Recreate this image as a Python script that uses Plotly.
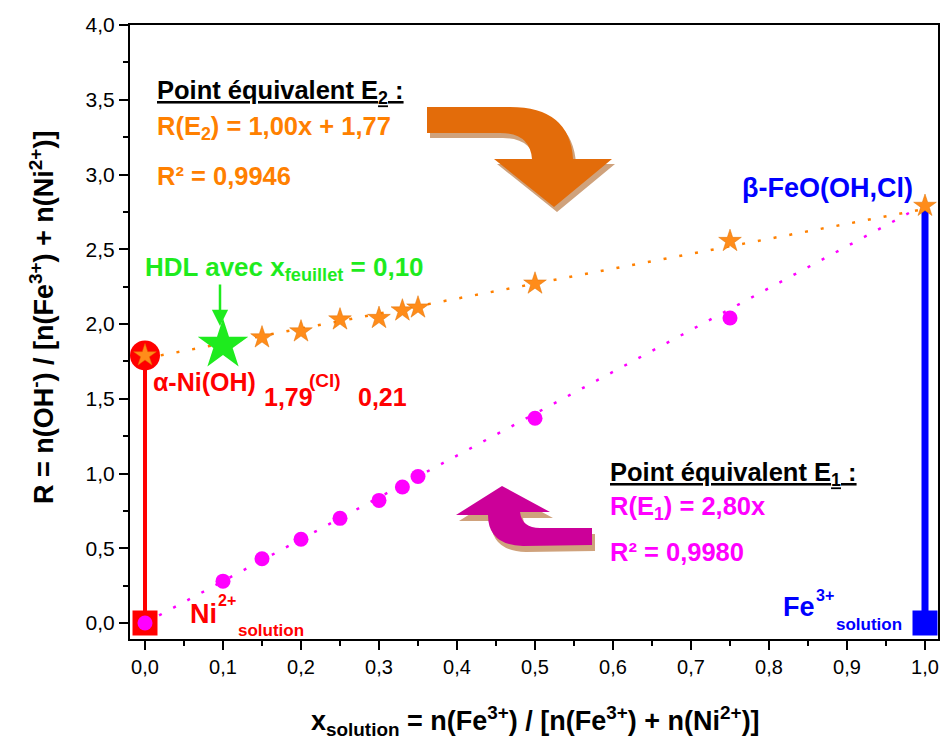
import plotly.graph_objects as go

# ---------------- data ----------------
x_e2 = [0.0, 0.15, 0.20, 0.25, 0.30, 0.33, 0.35, 0.50, 0.75, 1.00]
r_e2 = [1.79, 1.91, 1.95, 2.03, 2.04, 2.09, 2.11, 2.27, 2.555, 2.79]

x_e1 = [0.0, 0.10, 0.15, 0.20, 0.25, 0.30, 0.33, 0.35, 0.50, 0.75]
r_e1 = [0.0, 0.28, 0.43, 0.56, 0.70, 0.82, 0.91, 0.98, 1.37, 2.04]

x_hdl = [0.10]
r_hdl = [1.86]

x_ni = [0.0]
r_ni = [1.79]
x_fe = [1.0]
r_fe = [2.80]

fit_x = [0.0, 1.0]
e2_slope, e2_intercept = 1.00, 1.77
e1_slope, e1_intercept = 2.80, 0.0

x_ticks = [0.0, 0.1, 0.2, 0.3, 0.4, 0.5, 0.6, 0.7, 0.8, 0.9, 1.0]
y_ticks = [0.0, 0.5, 1.0, 1.5, 2.0, 2.5, 3.0, 3.5, 4.0]

# ---------------- helpers (page pixel -> data / paper for layout items) ----------------
W, H = 941, 749
L, R_, T, B = 130, 938, 25, 639          # plot area in pixels
X0PX, XPU = 145, 780.0
Y0PX, YPU = 623, 149.5
xr = [(L - X0PX) / XPU, (R_ - X0PX) / XPU]
yr = [(Y0PX - B) / YPU, (Y0PX - T) / YPU]


def X(px):
    return (px - X0PX) / XPU


def Y(py):
    return (Y0PX - py) / YPU


def PX(px):
    return (px - L) / (R_ - L)


def PY(py):
    return (B - py) / (B - T)


def path(cmds, dx=0, dy=0):
    out = []
    for c in cmds:
        op = c[0]
        pts = c[1:]
        s = op
        for i in range(0, len(pts), 2):
            s += " %.5f,%.5f" % (X(pts[i] + dx), Y(pts[i + 1] + dy))
        out.append(s)
    return " ".join(out) + " Z"


ORANGE = "#FF8000"
MAG = "#FF00FF"
RED = "#FF0000"
BLUE = "#0000FF"
GREEN = "#1EEB1E"
FONT = "Liberation Sans, Arial, sans-serif"

fig = go.Figure()

# stems
fig.add_trace(go.Scatter(x=[x_ni[0], x_ni[0]], y=[0, r_ni[0]], mode="lines",
                         line=dict(color=RED, width=4), hoverinfo="skip"))
fig.add_trace(go.Scatter(x=[x_fe[0], x_fe[0]], y=[0, r_fe[0]], mode="lines",
                         line=dict(color=BLUE, width=7), hoverinfo="skip"))
# solution squares
fig.add_trace(go.Scatter(x=[x_ni[0]], y=[0], mode="markers",
                         marker=dict(symbol="square", size=25, color=RED)))
fig.add_trace(go.Scatter(x=[x_fe[0]], y=[0], mode="markers",
                         marker=dict(symbol="square", size=25, color=BLUE)))
# red circle alpha-Ni(OH)
fig.add_trace(go.Scatter(x=x_ni, y=r_ni, mode="markers",
                         marker=dict(symbol="circle", size=30, color=RED)))

# fit lines
fig.add_trace(go.Scatter(x=fit_x, y=[e2_slope * v + e2_intercept for v in fit_x], mode="lines",
                         line=dict(color=ORANGE, width=2.5, dash="3px,13px")))
fig.add_trace(go.Scatter(x=fit_x, y=[e1_slope * v + e1_intercept for v in fit_x], mode="lines",
                         line=dict(color=MAG, width=2.5, dash="3px,13px")))

# data markers
fig.add_trace(go.Scatter(x=x_e1, y=r_e1, mode="markers",
                         marker=dict(symbol="circle", size=15, color=MAG)))
fig.add_trace(go.Scatter(x=x_e2, y=r_e2, mode="markers",
                         marker=dict(symbol="star", size=17, color="#FF8C1A",
                                     line=dict(color="#E07000", width=0.5))))
fig.add_trace(go.Scatter(x=x_hdl, y=r_hdl, mode="markers",
                         marker=dict(symbol="star", size=38, color=GREEN)))

# ---------------- decorative block arrows ----------------
orange_arrow = [("M", 427, 107), ("L", 510, 107), ("Q", 570, 107, 573, 159), ("L", 612, 159),
                ("L", 554, 207), ("L", 494, 159), ("L", 532, 159), ("Q", 530, 133, 500, 133),
                ("L", 427, 133)]
mag_arrow = [("M", 502, 486), ("L", 550, 512), ("L", 520, 512), ("Q", 522, 528, 540, 528),
             ("L", 592, 528), ("L", 592, 545), ("L", 523, 546), ("Q", 488, 545, 488, 515),
             ("L", 456, 515)]
shapes = [
    dict(type="path", path=path(orange_arrow, 3, 5), xref="x", yref="y",
         fillcolor="#CFA27C", line=dict(width=0)),
    dict(type="path", path=path(orange_arrow), xref="x", yref="y",
         fillcolor="#E36C0A", line=dict(width=0)),
    dict(type="path", path=path(mag_arrow, 3, 6), xref="x", yref="y",
         fillcolor="#CFA27C", line=dict(width=0)),
    dict(type="path", path=path(mag_arrow), xref="x", yref="y",
         fillcolor="#CC0099", line=dict(width=0)),
]

# ---------------- text ----------------
ann = []


def txt(text, px, py, size, color, xanchor="left", yanchor="middle", bold=True, family=FONT):
    ann.append(dict(text=("<b>%s</b>" % text) if bold else text, x=X(px), y=Y(py),
                    xref="x", yref="y", showarrow=False, xanchor=xanchor, yanchor=yanchor,
                    font=dict(size=size, color=color, family=family)))


TS = 25.5
txt("<u>Point équivalent E<sub>2</sub> :</u>", 155, 92, TS, "black")
txt("R(E<sub>2</sub>) = 1,00x + 1,77", 155, 128, TS, ORANGE)
txt("R² = 0,9946", 155, 176, TS, ORANGE)

txt("<u>Point équivalent E<sub>1</sub> :</u>", 608, 474, TS, "black")
txt("R(E<sub>1</sub>) = 2,80x", 608, 508, TS, MAG)
txt("R² = 0,9980", 608, 552, TS, MAG)

txt("HDL avec x<sub>feuillet</sub> = 0,10", 143, 268, 26, GREEN)

txt("α-Ni(OH)", 151, 382, 25, RED)
txt("1,79", 262, 397, 25, RED)
txt("(Cl)", 307, 380, 19, RED)
txt("0,21", 356, 397, 25, RED)

txt("Ni", 188, 614, 27, RED)
txt("2+", 216, 600, 16, RED)
txt("solution", 236, 630, 17, RED)

txt("β-FeO(OH,Cl)", 740, 188, 27, BLUE)
txt("Fe", 781, 607, 27, BLUE)
txt("3+", 814, 595, 16, BLUE)
txt("solution", 834, 624, 17, BLUE)

# green pointer arrow
ann.append(dict(text="", x=X(220), y=Y(326), ax=X(220), ay=Y(283), xref="x", yref="y",
                axref="x", ayref="y", showarrow=True, arrowhead=2, arrowsize=1.3,
                arrowwidth=2.5, arrowcolor=GREEN))

# axis titles
ann.append(dict(text="<b>R = n(OH<sup>-</sup>) / [n(Fe<sup>3+</sup>) + n(Ni<sup>2+</sup>)]</b>",
                x=PX(42), y=PY(318), xref="paper", yref="paper", textangle=-90,
                showarrow=False, xanchor="center", yanchor="middle",
                font=dict(size=27, color="black", family=FONT)))
ann.append(dict(text="<b>x<sub>solution</sub> = n(Fe<sup>3+</sup>) / [n(Fe<sup>3+</sup>) + n(Ni<sup>2+</sup>)]</b>",
                x=PX(535), y=PY(721), xref="paper", yref="paper",
                showarrow=False, xanchor="center", yanchor="middle",
                font=dict(size=27, color="black", family=FONT)))

axis_common = dict(showgrid=False, zeroline=False, showline=True, linecolor="black",
                   linewidth=2, mirror=True, ticks="outside", ticklen=9, tickwidth=2,
                   tickcolor="black", automargin=False)

fig.update_layout(
    width=W, height=H,
    margin=dict(l=L, r=W - R_, t=T, b=H - B, autoexpand=False),
    paper_bgcolor="white", plot_bgcolor="white",
    showlegend=False,
    separators=", ",
    shapes=shapes,
    annotations=ann,
    xaxis=dict(range=xr, tickvals=x_ticks, tickformat=".1f",
               tickfont=dict(size=20, color="black", family=FONT),
               minor=dict(dtick=0.05, ticks="outside", ticklen=5, tickwidth=2, tickcolor="black"),
               **axis_common),
    yaxis=dict(range=yr, tickvals=y_ticks, tickformat=".1f",
               tickfont=dict(size=21, color="black", family=FONT),
               minor=dict(dtick=0.25, ticks="outside", ticklen=5, tickwidth=2, tickcolor="black"),
               **axis_common),
)

fig.write_html(
    "out.html",
    config={"displayModeBar": False},
    post_script="document.body.style.margin='0';document.body.style.overflow='hidden';",
)
